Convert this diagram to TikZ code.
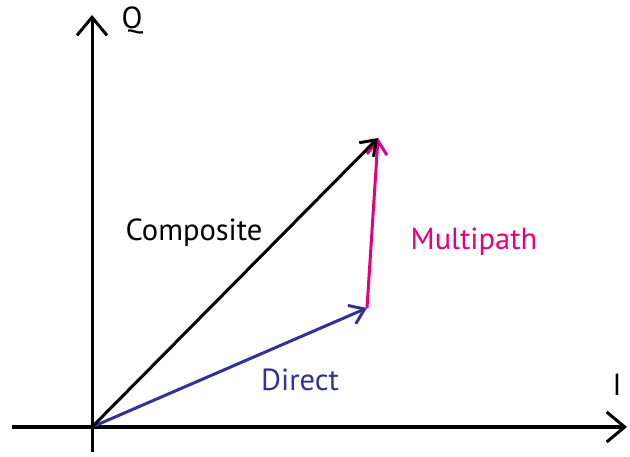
\documentclass[tikz,border=0pt]{standalone}
\usepackage{fontspec}
\setmainfont{PT Sans}
\usetikzlibrary{arrows.meta}
\definecolor{dirblue}{RGB}{50,50,150}
\definecolor{mpmag}{RGB}{230,0,126}
\begin{document}
\begin{tikzpicture}[x=1pt,y=-1pt,
  axis/.style={line width=3pt,-{Straight Barb[length=18pt,width=30pt,line width=3pt]}},
  vec/.style={line width=3pt,-{Straight Barb[length=14pt,width=20pt,line width=3pt]}},
  lbl/.style={font=\fontsize{30.5}{36}\selectfont,inner sep=0pt}]
\useasboundingbox (0,0) rectangle (630,457);
\coordinate (O) at (92,427);
\coordinate (xs) at (12,427);
\coordinate (xe) at (627,427);
\coordinate (ys) at (92,452);
\coordinate (ye) at (92,15);
\coordinate (D) at (367,308);
\coordinate (C) at (378,138);
\draw[axis] (xs) -- (xe);
\draw[axis] (ys) -- (ye);
\draw[vec,dirblue] (O) -- (D);
\draw[vec,mpmag] (D) -- (C);
\draw[vec,black] (O) -- (C);
\node[lbl] (q) at (132,20) {Q};
\node[lbl] (i) at (617,385) {I};
\node[lbl] (comp) at (194,233) {Composite};
\node[lbl,text=mpmag] (mp) at (474,242) {Multipath};
\node[lbl,text=dirblue] (dir) at (300,380) {Direct};
\end{tikzpicture}
\end{document}
